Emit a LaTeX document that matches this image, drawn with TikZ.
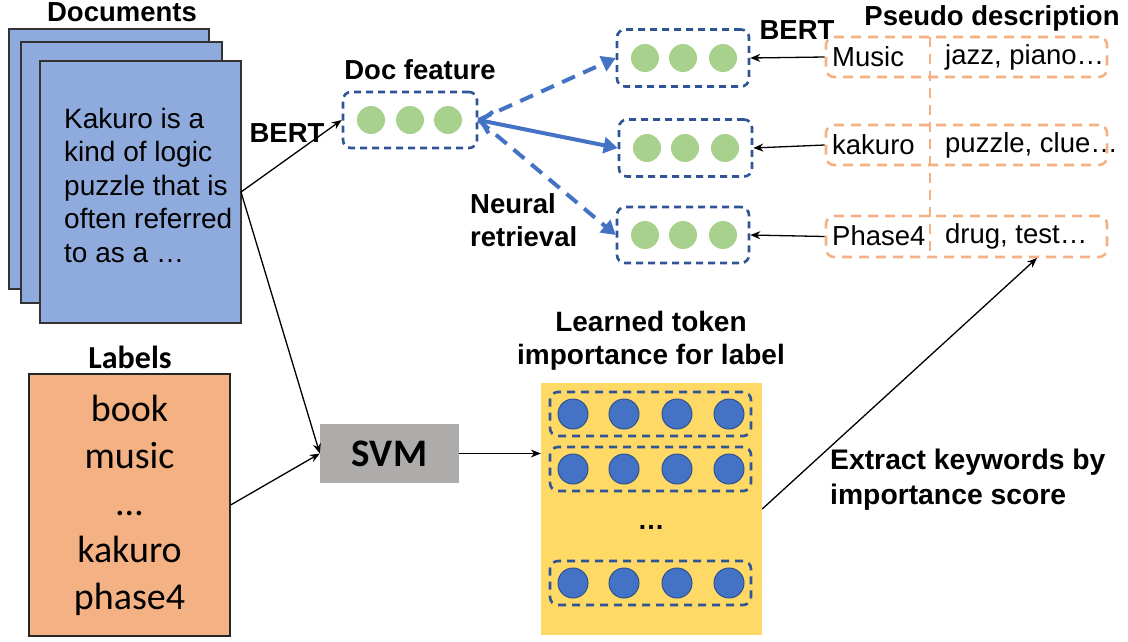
\documentclass[tikz,border=0pt]{standalone}
\usepackage{fontspec}
\setmainfont{Liberation Sans}
\newfontfamily\calib{Carlito}
\usetikzlibrary{arrows.meta}
\definecolor{docblue}{HTML}{8FAADC}
\definecolor{lblorange}{HTML}{F4B183}
\definecolor{svmgray}{HTML}{AEABAB}
\definecolor{impyellow}{HTML}{FFD966}
\definecolor{featgreen}{HTML}{A9D18E}
\definecolor{dashblue}{HTML}{2F5597}
\definecolor{arrblue}{HTML}{4472C4}
\definecolor{dotedge}{HTML}{2F528F}
\tikzset{
  page/.style={draw=black!80, line width=1.2pt, fill=docblue},
  featbox/.style={draw=dashblue, line width=2.6pt, dash pattern=on 7pt off 5pt, rounded corners=8pt, minimum width=#1, minimum height=57pt, inner sep=0pt},
  gdot/.style={circle, fill=featgreen, minimum size=28pt, inner sep=0pt},
  bdot/.style={circle, fill=arrblue, draw=dotedge, line width=1pt, minimum size=30pt, inner sep=0pt},
  rowbox/.style={draw=dashblue, line width=2.6pt, dash pattern=on 8pt off 6pt, rounded corners=8pt, minimum width=201pt, minimum height=44pt, inner sep=0pt},
  pbox/.style={draw=lblorange, line width=2.6pt, dash pattern=on 10pt off 7pt, rounded corners=8pt, minimum width=281pt, minimum height=40pt, inner sep=0pt},
  ptext/.style={font=\fontsize{27.5}{32}\selectfont, anchor=west, inner sep=0pt},
  btitle/.style={font=\fontsize{27.5}{33}\selectfont\bfseries, inner sep=0pt},
  thinarrow/.style={-{Stealth[length=10pt,width=8pt]}, line width=1.3pt, draw=black},
  bluedash/.style={draw=arrblue, line width=4pt, dash pattern=on 14pt off 9pt, -{Triangle[length=14pt,width=16pt]}},
  bluesolid/.style={draw=arrblue, line width=4pt, {Straight Barb[length=10pt,width=22pt,line width=4pt]}-{Triangle[length=14pt,width=16pt]}},
}
\begin{document}
\begin{tikzpicture}[x=1pt,y=-1pt]
\useasboundingbox (0,0) rectangle (1128,641);
% documents
\draw[page] (9,29) rectangle (209,289);
\draw[page] (21,42) rectangle (222,303);
\node[page, minimum width=201pt, minimum height=262pt, inner sep=0pt] (docs) at (140.5,192) {};
\node[anchor=west, align=left, inner sep=0pt, font=\fontsize{28}{33.5}\selectfont] (doctext) at (64,185) {Kakuro is a\\kind of logic\\puzzle that is\\often referred\\to as a …};
\node[btitle] (doctitle) at (122,12) {Documents};
\node[btitle] (bert1) at (287,133) {BERT};
% doc feature
\node[featbox=134pt, minimum height=56pt] (feat) at (410,120) {};
\foreach \x in {371,410,448} \node[gdot] at (\x,120) {};
\node[btitle] (feattitle) at (420,70) {Doc feature};
% candidate label features
\node[featbox=132pt] (fa) at (683,58) {};
\node[featbox=133pt] (fb) at (685.5,148) {};
\node[featbox=132pt, minimum height=56pt] (fc) at (683,235) {};
\foreach \y in {58,235} \foreach \x in {645,683,723} \node[gdot] at (\x,\y) {};
\foreach \x in {647,685,725} \node[gdot] at (\x,148) {};
\node[btitle] (bert2) at (797,30) {BERT};
\node[btitle, anchor=west, align=left] (nr) at (470,220.5) {Neural\\retrieval};
% pseudo description
\node[btitle] (pdtitle) at (992,18) {Pseudo description};
\node[pbox] (p1) at (966.5,57) {};
\node[pbox] (p2) at (966.5,145) {};
\node[pbox, minimum height=41pt] (p3) at (966.5,236.5) {};
\coordinate (vtop) at (930,37);
\coordinate (vbot) at (930,258);
\draw[draw=lblorange, line width=2.6pt, dash pattern=on 10pt off 7pt] (vtop) -- (vbot);
\node[ptext] at (832,57) {Music};
\node[ptext] at (945,57) {jazz, piano…};
\node[ptext] at (832,145) {kakuro};
\node[ptext] at (945,145) {puzzle, clue…};
\node[ptext] at (832,236) {Phase4};
\node[ptext] at (945,236) {drug, test…};
% labels
\node[draw=black!85, line width=1.2pt, fill=lblorange, minimum width=201pt, minimum height=262pt, inner sep=0pt] (labels) at (129.5,505) {};
\node[align=center, inner sep=0pt, font=\calib\fontsize{38}{47}\selectfont] at (129.5,505) {book\\music\\…\\kakuro\\phase4};
\node[inner sep=0pt, font=\calib\bfseries\fontsize{32}{36}\selectfont] (lbltitle) at (130,357) {Labels};
% svm
\node[fill=svmgray, minimum width=139pt, minimum height=59pt, inner sep=0pt, font=\calib\bfseries\fontsize{39}{44}\selectfont] (svm) at (389.5,453.5) {SVM};
% importance
\node[fill=impyellow, minimum width=221pt, minimum height=252pt, inner sep=0pt] (imp) at (651.5,509) {};
\foreach \y in {414,469,583} {
  \node[rowbox] at (650.5,\y) {};
  \foreach \x in {573,624,677,729} \node[bdot] at (\x,\y) {};
}
\node[inner sep=0pt, font=\fontsize{27}{32}\selectfont\bfseries] at (651,527) {…};
\node[align=center, inner sep=0pt, font=\bfseries\fontsize{28}{33}\selectfont] (imptitle) at (651,340.5) {Learned token\\importance for label};
\node[anchor=west, align=left, inner sep=0pt, font=\bfseries\fontsize{28.3}{35}\selectfont] (extract) at (830,479.5) {Extract keywords by\\importance score};
% connectors
\coordinate (docout) at (241,192);
\draw[thinarrow] (docout) -- (feat.west);
\draw[thinarrow] (docout) -- (svm.west);
\draw[thinarrow] (labels.east) -- (svm.west);
\draw[thinarrow] (svm.east) -- (svm.east -| imp.west);
\coordinate (t3) at (1037,258);
\draw[thinarrow] (imp.east) -- (t3);
\draw[thinarrow] (p1.west) -- (fa.east);
\draw[thinarrow] (p2.west) -- (fb.east);
\draw[thinarrow] (p3.west) -- (fc.east);
\draw[bluedash] (feat.east) -- (fa.west);
\draw[bluedash] (feat.east) -- (fc.west);
\draw[bluesolid] (feat.east) -- (fb.west);
\end{tikzpicture}
\end{document}
